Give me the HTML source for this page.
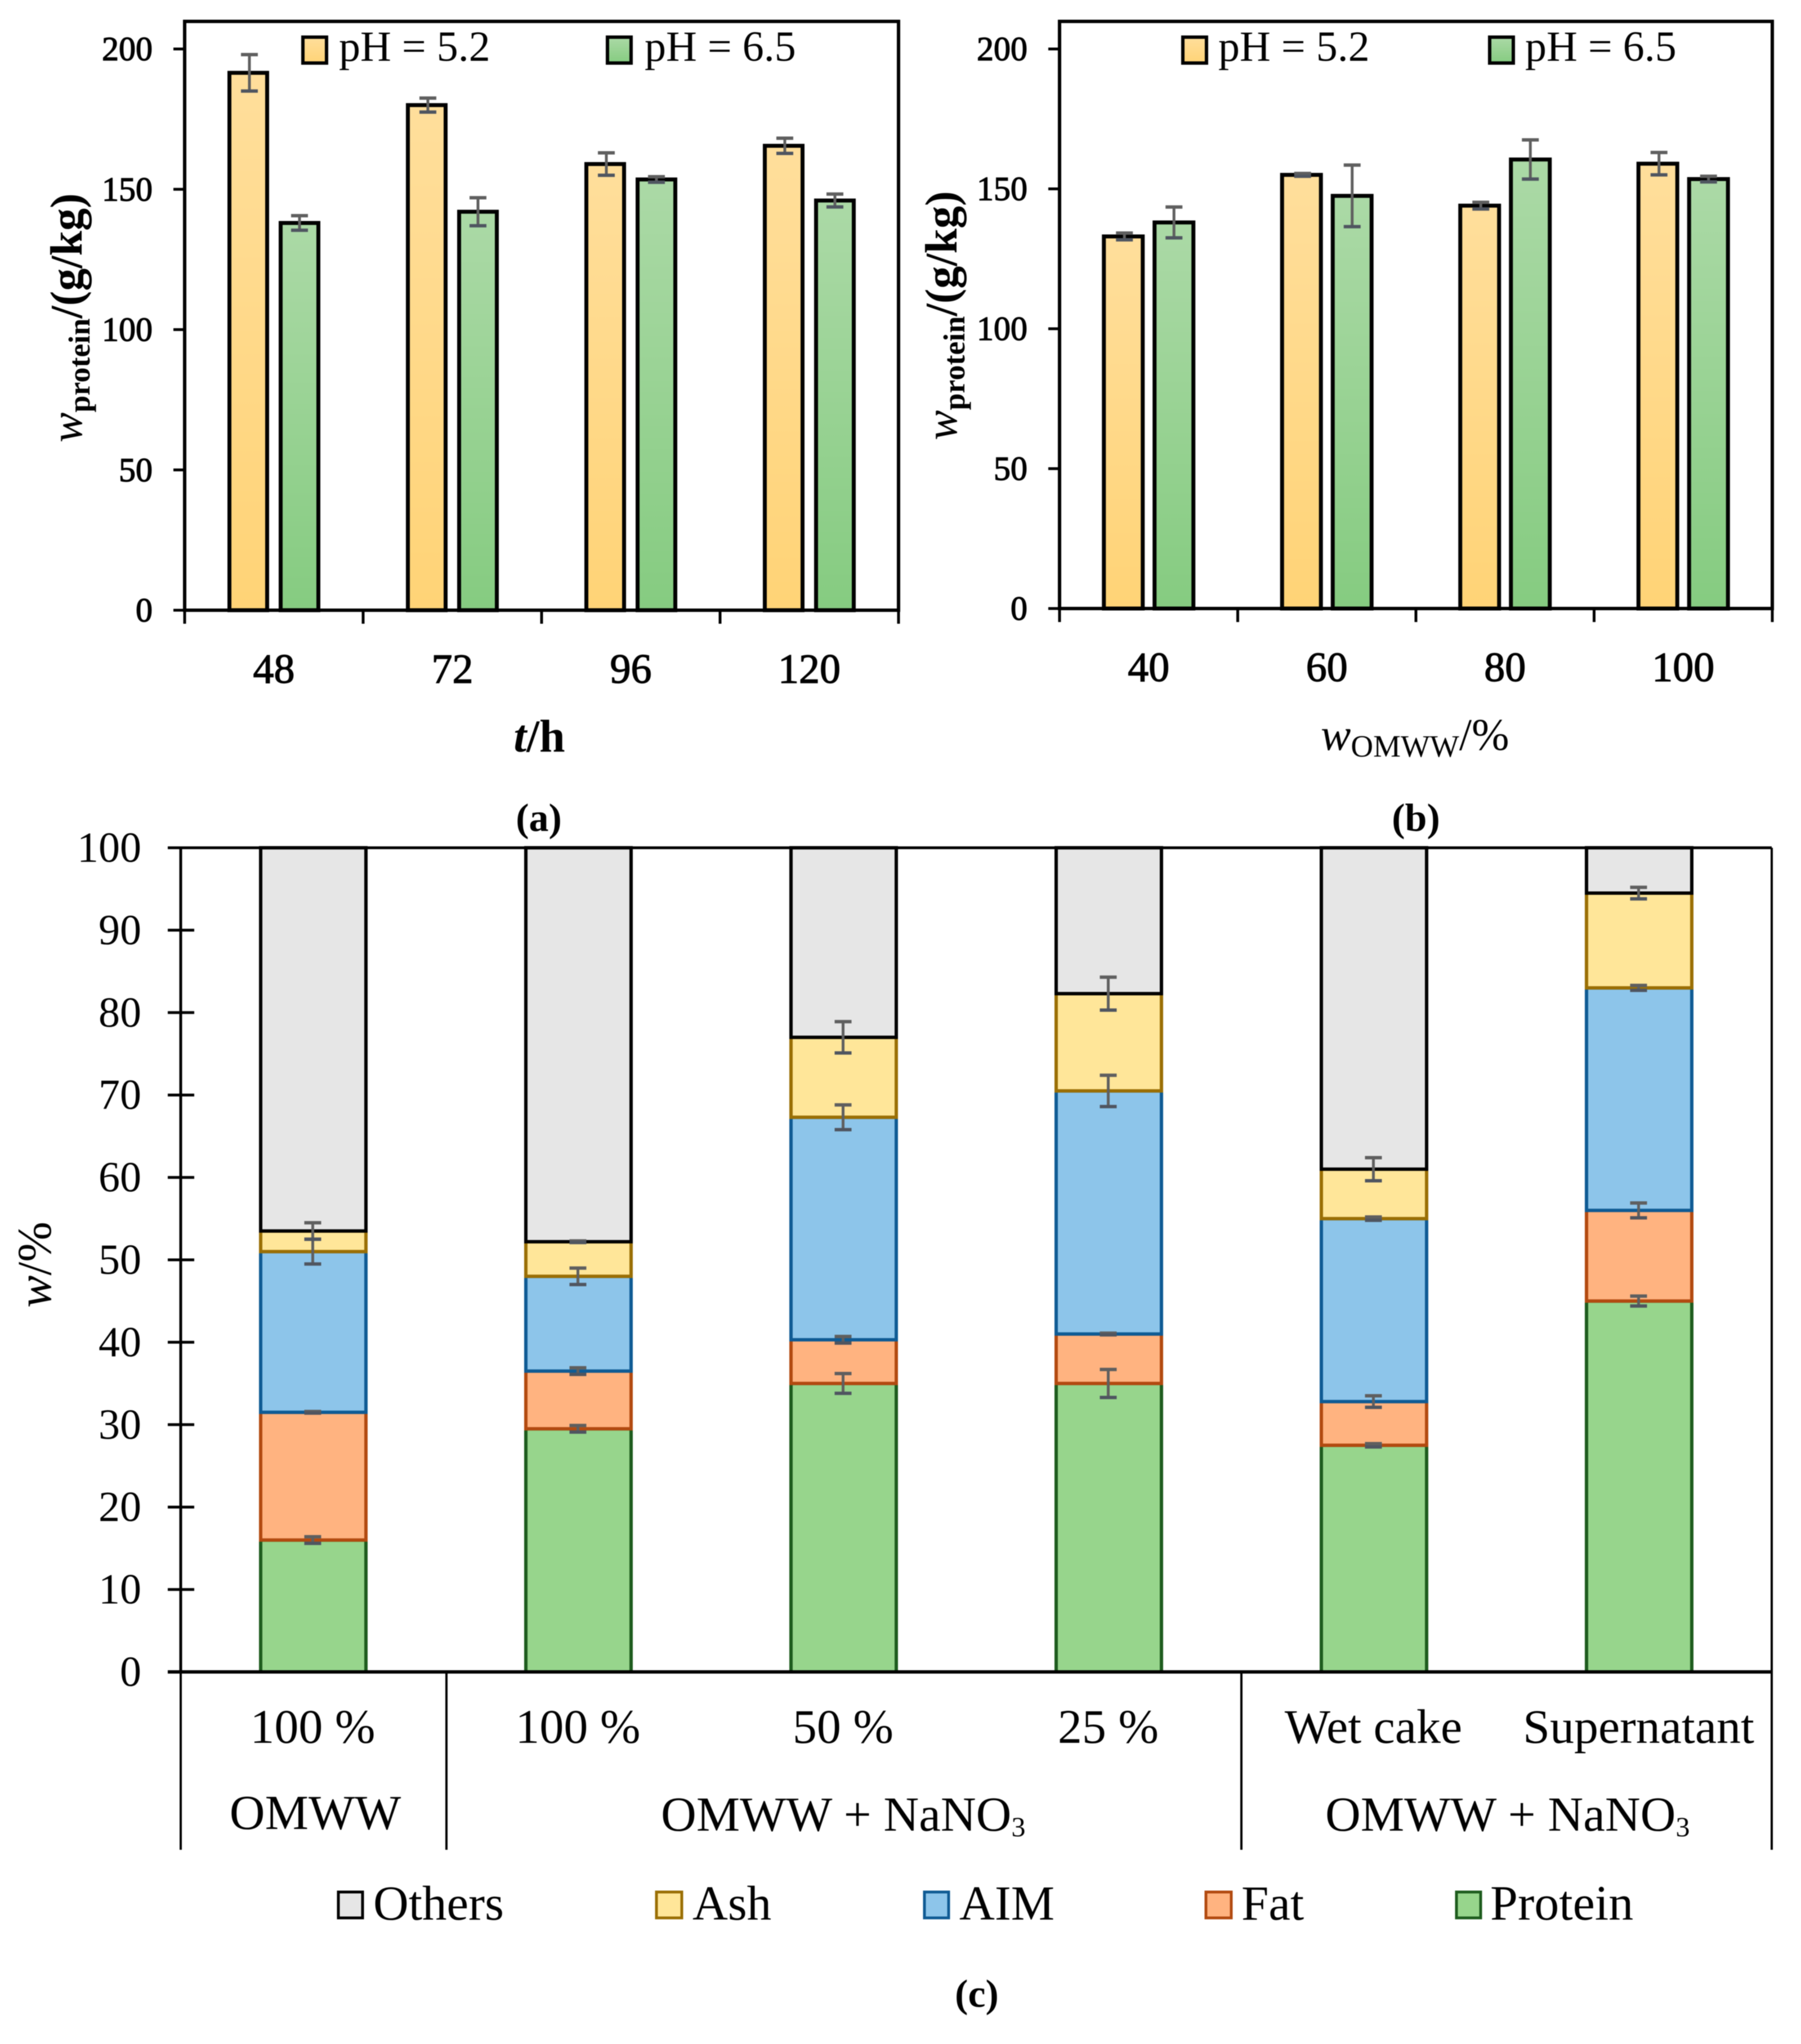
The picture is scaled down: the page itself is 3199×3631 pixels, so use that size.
<!DOCTYPE html>
<html lang="en">
<head>
<meta charset="utf-8">
<title>Protein content and biomass composition charts</title>
<style>
html,body{margin:0;padding:0;background:#fff;}
svg{display:block;filter:blur(0.8px);}
text{font-family:"Liberation Serif",serif;fill:#000;}
.semi{stroke:#000;stroke-width:1.4px;}
.bold{font-weight:bold;}
</style>
</head>
<body>
<svg id="figure" xmlns="http://www.w3.org/2000/svg" width="3199" height="3631" viewBox="0 0 3199 3631">
<defs>
<linearGradient id="grad-orange" x1="0" y1="0" x2="0" y2="1"><stop offset="0" stop-color="#FFDE9B"/><stop offset="1" stop-color="#FFD376"/></linearGradient>
<linearGradient id="grad-green" x1="0" y1="0" x2="0" y2="1"><stop offset="0" stop-color="#ABD9A6"/><stop offset="1" stop-color="#85CB80"/></linearGradient>
</defs>
<rect width="3199" height="3631" fill="#fff"/>

<g id="panel-a"></g>
<g id="panel-b"></g>
<g id="panel-c"></g>

<!-- Panel a static text -->
<text transform="translate(145,786) rotate(-90)" font-size="80"><tspan font-style="italic">w</tspan><tspan font-size="54" dy="14" class="bold">protein</tspan><tspan dy="-14" class="bold">/(g/kg)</tspan></text>
<text x="958" y="1335" font-size="82" text-anchor="middle" class="bold"><tspan font-style="italic">t</tspan>/h</text>
<text x="957" y="1476" font-size="70" text-anchor="middle" class="bold">(a)</text>
<g>
<rect x="538" y="66" width="42" height="46" fill="url(#grad-orange)" stroke="#000" stroke-width="6"/>
<text x="602" y="108" font-size="76">pH = 5.2</text>
<rect x="1079" y="66" width="42" height="46" fill="url(#grad-green)" stroke="#000" stroke-width="6"/>
<text x="1145" y="108" font-size="76">pH = 6.5</text>
</g>

<!-- Panel b static text -->
<text transform="translate(1699,782) rotate(-90)" font-size="80"><tspan font-style="italic">w</tspan><tspan font-size="54" dy="14" class="bold">protein</tspan><tspan dy="-14" class="bold">/(g/kg)</tspan></text>
<text x="2346" y="1332" font-size="80"><tspan font-style="italic">w</tspan><tspan font-size="55" dy="12">OMWW</tspan><tspan dy="-12">/%</tspan></text>
<text x="2515" y="1476" font-size="70" text-anchor="middle" class="bold">(b)</text>
<g>
<rect x="2101" y="66" width="42" height="46" fill="url(#grad-orange)" stroke="#000" stroke-width="6"/>
<text x="2164" y="108" font-size="76">pH = 5.2</text>
<rect x="2646" y="66" width="42" height="46" fill="url(#grad-green)" stroke="#000" stroke-width="6"/>
<text x="2709" y="108" font-size="76">pH = 6.5</text>
</g>

<!-- Panel c static text -->
<text transform="translate(90,2323) rotate(-90)" font-size="86"><tspan font-style="italic">w</tspan>/%</text>
<g stroke="#000" stroke-width="4">
<line x1="321" y1="2970" x2="321" y2="3286"/>
<line x1="793" y1="2970" x2="793" y2="3286"/>
<line x1="2205" y1="2970" x2="2205" y2="3286"/>
<line x1="3147" y1="2970" x2="3147" y2="3286"/>
</g>
<text x="560" y="3249" font-size="87" text-anchor="middle">OMWW</text>
<text x="1174" y="3252" font-size="87">OMWW + NaNO<tspan font-size="50" dy="10">3</tspan></text>
<text x="2354" y="3252" font-size="87">OMWW + NaNO<tspan font-size="50" dy="10">3</tspan></text>
<g stroke-width="5">
<rect x="601" y="3361" width="43" height="46" fill="#E6E6E6" stroke="#000"/>
<text x="663" y="3410" font-size="87" stroke="none">Others</text>
<rect x="1166" y="3361" width="45" height="46" fill="#FFE699" stroke="#9A6F05"/>
<text x="1230" y="3410" font-size="87" stroke="none">Ash</text>
<rect x="1642" y="3361" width="43" height="46" fill="#8DC5EA" stroke="#0F5B94"/>
<text x="1704" y="3410" font-size="87" stroke="none">AIM</text>
<rect x="2142" y="3361" width="45" height="46" fill="#FFB380" stroke="#B24A10"/>
<text x="2205" y="3410" font-size="87" stroke="none">Fat</text>
<rect x="2587" y="3361" width="43" height="46" fill="#97D58C" stroke="#1E5C1E"/>
<text x="2647" y="3410" font-size="88" stroke="none">Protein</text>
</g>
<text x="1735" y="3565" font-size="70" text-anchor="middle" class="bold">(c)</text>
</svg>

<script>
// Panel (a) data
const aCategories = ['48', '72', '96', '120'];
const aPh52 = [191.5, 180, 159, 165.5];
const aPh65 = [138, 142, 153.5, 146];
const aPh52Err = [6.5, 2.5, 4, 2.7];
const aPh65Err = [2.6, 5, 1, 2.3];

// Panel (b) data
const bCategories = ['40', '60', '80', '100'];
const bPh52 = [133, 155, 144, 159];
const bPh65 = [138, 147.5, 160.5, 153.5];
const bPh52Err = [1.2, 0.5, 1.2, 4];
const bPh65Err = [5.5, 11, 7, 1];

// Shared y ticks for (a) and (b)
const proteinTicks = [0, 50, 100, 150, 200];

// Panel (c) data
const cCategories = ['100 %', '100 %', '50 %', '25 %', 'Wet cake', 'Supernatant'];
const cProtein = [16, 29.5, 35, 35, 27.5, 45];
const cFat = [15.5, 7, 5.3, 6, 5.3, 11];
const cAim = [19.5, 11.5, 27, 29.5, 22.2, 27];
const cAsh = [2.5, 4.2, 9.7, 11.8, 6, 11.5];
const cOthers = [46.5, 47.8, 23, 17.7, 39, 5.5];
const cProteinErr = [0.4, 0.4, 1.2, 1.7, 0.2, 0.6];
const cFatErr = [0.1, 0.4, 0.4, 0.1, 0.7, 0.9];
const cAimErr = [1.5, 1, 1.5, 1.9, 0.2, 0.3];
const cAshErr = [1, 0.1, 1.9, 2, 1.4, 0.7];
const cTicks = [0, 10, 20, 30, 40, 50, 60, 70, 80, 90, 100];

const NS = 'http://www.w3.org/2000/svg';
function make(parent, tag, attrs, txt) {
  const e = document.createElementNS(NS, tag);
  for (const k in attrs) e.setAttribute(k, attrs[k]);
  if (txt !== undefined) e.textContent = txt;
  parent.appendChild(e);
  return e;
}

function errorBar(parent, x, yScale, v, err, cap, name) {
  const stem = make(parent, 'line', {x1: x, x2: x, y1: yScale(v + err), y2: yScale(v - err), stroke: '#5F5F5F', 'stroke-width': 5});
  
  
  const top = make(parent, 'line', {x1: x - cap, x2: x + cap, y1: yScale(v + err), y2: yScale(v + err), stroke: '#5F5F5F', 'stroke-width': 6});
  
  
  const bot = make(parent, 'line', {x1: x - cap, x2: x + cap, y1: yScale(v - err), y2: yScale(v - err), stroke: '#4F5560', 'stroke-width': 6});
  
  
}

function drawGrouped(panelId, prefix, opt, cats, s1, s2, e1, e2) {
  const g = document.getElementById(panelId);
  const y = v => opt.y0 - v * opt.unit;
  const band = (opt.right - opt.left) / cats.length;
  const xc = i => opt.left + (i + 0.5) * band;

  cats.forEach((c, i) => {
    const v1 = s1[i], v2 = s2[i];
    const b1 = make(g, 'rect', {x: xc(i) - opt.off - opt.bw / 2, y: y(v1), width: opt.bw, height: opt.y0 - y(v1), fill: 'url(#grad-orange)', stroke: '#000', 'stroke-width': 7});
    
    
    const b2 = make(g, 'rect', {x: xc(i) + opt.off - opt.bw / 2, y: y(v2), width: opt.bw, height: opt.y0 - y(v2), fill: 'url(#grad-green)', stroke: '#000', 'stroke-width': 7});
    
    
    errorBar(g, xc(i) - opt.off + 2, y, v1, e1[i], 15, prefix + '-error-ph52-' + c);
    errorBar(g, xc(i) + opt.off, y, v2, e2[i], 15, prefix + '-error-ph65-' + c);
    const lab = make(g, 'text', {x: xc(i), y: opt.labelY, 'font-size': 74, 'text-anchor': 'middle', class: 'semi'}, c);
    
    
  });

  const frame = make(g, 'rect', {x: opt.left, y: 38, width: opt.right - opt.left, height: opt.y0 - 38, fill: 'none', stroke: '#000', 'stroke-width': 6});
  
  

  proteinTicks.forEach(t => {
    const tick = make(g, 'line', {x1: opt.left - 20, x2: opt.left, y1: y(t), y2: y(t), stroke: '#000', 'stroke-width': 5});
    
    
    const lab = make(g, 'text', {x: opt.left - 57, y: y(t) + 20, 'font-size': 60, 'text-anchor': 'end', class: 'semi'}, String(t));
    
    
  });

  for (let i = 0; i <= cats.length; i++) {
    const tick = make(g, 'line', {x1: opt.left + i * band, x2: opt.left + i * band, y1: opt.y0, y2: opt.y0 + 24, stroke: '#000', 'stroke-width': 5});
    
    
  }
}

drawGrouped('panel-a', 'panel-a', {left: 328, right: 1596, y0: 1084, unit: 4.985, bw: 67, off: 45.5, labelY: 1213}, aCategories, aPh52, aPh65, aPh52Err, aPh65Err);
drawGrouped('panel-b', 'panel-b', {left: 1882, right: 3148, y0: 1081, unit: 4.97, bw: 69, off: 45, labelY: 1210}, bCategories, bPh52, bPh65, bPh52Err, bPh65Err);

function drawStacked() {
  const g = document.getElementById('panel-c');
  const left = 321, right = 3147, y0 = 2970, unit = 14.64, bw = 187;
  const y = v => y0 - v * unit;
  const band = (right - left) / cCategories.length;
  const xc = i => left + (i + 0.5) * band;

  const order = [
    {key: 'protein', vals: cProtein, errs: cProteinErr, fill: '#97D58C', stroke: '#1E5C1E'},
    {key: 'fat', vals: cFat, errs: cFatErr, fill: '#FFB380', stroke: '#B24A10'},
    {key: 'aim', vals: cAim, errs: cAimErr, fill: '#8DC5EA', stroke: '#0F5B94'},
    {key: 'ash', vals: cAsh, errs: cAshErr, fill: '#FFE699', stroke: '#9A6F05'},
    {key: 'others', vals: cOthers, errs: null, fill: '#E6E6E6', stroke: '#000'}
  ];

  cCategories.forEach((c, i) => {
    let base = 0;
    const tops = [];
    order.forEach(s => {
      const top = base + s.vals[i];
      const r = make(g, 'rect', {x: xc(i) - bw / 2, y: y(top), width: bw, height: y(base) - y(top), fill: s.fill, stroke: s.stroke, 'stroke-width': 6});
      
      
      tops.push({top: top, s: s});
      base = top;
    });
    tops.forEach(t => {
      if (t.s.errs) errorBar(g, xc(i) - 1, y, t.top, t.s.errs[i], 15, 'error-' + t.s.key + '-' + i);
    });
    const lab = make(g, 'text', {x: xc(i) - 1, y: 3096, 'font-size': 86, 'text-anchor': 'middle'}, c);
    
    
  });

  const topLine = make(g, 'line', {x1: left - 23, x2: right, y1: y(100), y2: y(100), stroke: '#000', 'stroke-width': 5});
  
  
  const rightLine = make(g, 'line', {x1: right, x2: right, y1: y(100), y2: y0, stroke: '#000', 'stroke-width': 4});
  
  
  const yAxis = make(g, 'line', {x1: left, x2: left, y1: y(100), y2: y0, stroke: '#000', 'stroke-width': 5});
  
  
  const xAxis = make(g, 'line', {x1: left - 23, x2: right, y1: y0, y2: y0, stroke: '#000', 'stroke-width': 6});
  
  

  cTicks.forEach(t => {
    const tick = make(g, 'line', {x1: left - 23, x2: left + 24, y1: y(t), y2: y(t), stroke: '#000', 'stroke-width': 5});
    
    
    const lab = make(g, 'text', {x: 251, y: y(t) + 25, 'font-size': 76, 'text-anchor': 'end'}, String(t));
    
    
  });
}
drawStacked();
</script>
</body>
</html>
